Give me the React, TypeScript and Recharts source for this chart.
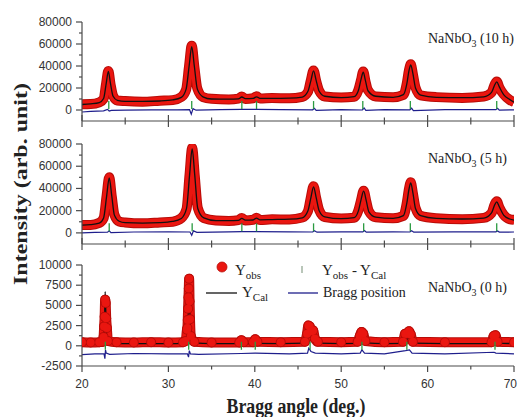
import React from 'react';
import { ComposedChart, Line, Scatter, XAxis, YAxis } from 'recharts';

// ---- NaNbO3 (10 h) ----
const angles10h = [
  20, 21, 22, 22.5, 22.8, 23.05, 23.3, 23.6, 24.1, 25, 27, 29, 30.5, 31.5, 32.05,
  32.4, 32.7, 33.0, 33.35, 34, 35, 37, 38.1, 38.5, 38.9, 39.8, 40.2, 40.6, 42, 44,
  45.5, 46.15, 46.5, 46.8, 47.1, 47.45, 48.1, 50, 51.5, 52.0, 52.3, 52.55, 52.8, 53.1, 54,
  56, 57.2, 57.6, 57.85, 58.05, 58.3, 58.6, 59.2, 61, 64, 66.5, 67.4, 67.75, 68.0, 68.3,
  68.8, 69.5, 70,
];
const yCal10h = [
  5000, 5600, 6800, 10500, 24000, 35000, 24000, 12500, 8800, 7900, 7800, 8200, 9200, 11500, 19000,
  40000, 57500, 40000, 19000, 12000, 10000, 9800, 10200, 11800, 10300, 10500, 12000, 10600, 10600, 10800,
  11800, 17000, 27000, 35500, 27000, 17000, 12500, 11200, 12200, 18000, 28000, 34500, 27000, 17500, 12500,
  11500, 14000, 24000, 36000, 41000, 33000, 20000, 13500, 11500, 11200, 12000, 16000, 22500, 25500, 21000,
  14000, 9500, 7000,
];
const yObs10h = [
  5200, 5400, 7000, 10200, 24500, 35500, 23500, 12800, 8600, 8100, 7600, 8400, 9000, 11800, 18500,
  40500, 58500, 39500, 19500, 11800, 10200, 9600, 10400, 12200, 10100, 10700, 12400, 10400, 10800, 10600,
  12000, 16500, 27500, 36000, 26500, 17500, 12300, 11400, 12000, 18500, 27500, 35000, 26500, 18000, 12300,
  11700, 13800, 24500, 36500, 41500, 32500, 20500, 13300, 11700, 11000, 12200, 15800, 23000, 26000, 20500,
  14300, 9300, 7200,
];
const diffAngles10h = [
  20, 21, 22.5, 22.95, 23.15, 23.4, 25, 28, 31, 32.45, 32.65, 32.85, 33.2, 36, 38.5,
  40.2, 43, 46.7, 46.9, 47.1, 50, 52.45, 52.65, 52.85, 55, 57.95, 58.15, 58.35, 62, 65,
  67.9, 68.1, 68.3, 70,
];
const diff10h = [
  -1800, -1200, -800, 600, -900, -300, -200, 100, 200, 300, -3800, 1200, -200, 300, 600,
  500, 300, 200, 1500, -300, 400, 0, 1800, -400, 300, 200, 1600, -500, 400, 300,
  300, 1500, -200, 200,
];
const bragg10h = [23.1, 32.7, 38.5, 40.2, 46.8, 52.5, 58.0, 68.0];

// ---- NaNbO3 (5 h) ----
const angles5h = [
  20, 21, 22, 22.5, 22.85, 23.15, 23.45, 23.75, 24.3, 25, 27, 29, 30.5, 31.5, 32.1,
  32.45, 32.75, 33.05, 33.4, 34.1, 35.5, 37, 38.1, 38.5, 38.9, 39.8, 40.2, 40.6, 42, 44,
  45.5, 46.15, 46.5, 46.8, 47.1, 47.45, 48.1, 50, 51.5, 52.0, 52.3, 52.6, 52.9, 53.2, 54,
  56, 57.2, 57.6, 57.85, 58.05, 58.3, 58.6, 59.2, 61, 64, 66.5, 67.4, 67.75, 68.0, 68.3,
  68.8, 69.5, 70,
];
const yCal5h = [
  7000, 7400, 8800, 13500, 33000, 49500, 33000, 16000, 10500, 9200, 8800, 9200, 10300, 13000, 22000,
  52000, 75500, 52000, 22000, 13500, 11000, 11000, 11300, 13000, 11400, 11600, 13300, 11800, 12000, 12300,
  13600, 20000, 32000, 41500, 32000, 20000, 14500, 12800, 13800, 20000, 30000, 37500, 29000, 19000, 14200,
  13000, 15500, 27000, 39500, 45000, 36000, 22000, 15500, 13000, 12500, 13300, 18000, 25000, 28000, 23500,
  16000, 12500, 11500,
];
const yObs5h = [
  7200, 7200, 9000, 13200, 33500, 50000, 32500, 16300, 10300, 9400, 8600, 9400, 10100, 13300, 21500,
  52500, 76500, 51500, 22500, 13300, 11200, 10800, 11500, 13400, 11200, 11800, 13600, 11600, 12200, 12100,
  13800, 19500, 32500, 42000, 31500, 20500, 14300, 13000, 13600, 20500, 29500, 38000, 28500, 19500, 14000,
  13200, 15300, 27500, 40000, 45500, 35500, 22500, 15300, 13200, 12300, 13500, 17800, 25500, 28500, 23000,
  16300, 12300, 11700,
];
const diffAngles5h = [
  20, 21.5, 22.95, 23.15, 23.35, 26, 30, 32.5, 32.7, 32.9, 33.3, 37, 38.5, 40.2, 44,
  46.7, 46.9, 47.2, 50, 52.5, 52.7, 52.9, 56, 57.95, 58.15, 58.4, 63, 67.9, 68.1, 68.3,
  70,
];
const diff5h = [
  0, 400, 600, 1800, 200, 800, 900, 800, -2200, 1800, 500, 900, 1200, 1200, 1000,
  800, 2000, 600, 1000, 900, 2200, 700, 1000, 800, 2000, 600, 900, 900, 1800, 700,
  800,
];
const bragg5h = [23.15, 32.75, 38.5, 40.2, 46.8, 52.6, 58.0, 68.0];

// ---- NaNbO3 (0 h) ----
const angles0h = [
  20, 21, 22, 22.4, 22.5, 22.56, 22.62, 22.68, 22.74, 22.8, 22.88, 23.0, 24, 26, 28,
  30, 31.7, 32.0, 32.15, 32.2, 32.24, 32.28, 32.32, 32.36, 32.4, 32.45, 32.5, 32.6, 33.0, 35,
  38.2, 38.45, 38.7, 39.8, 40.05, 40.3, 43, 45.8, 46.05, 46.2, 46.35, 46.55, 46.75, 46.95, 47.3,
  50, 51.9, 52.15, 52.35, 52.55, 52.8, 55, 57.15, 57.4, 57.6, 57.85, 58.05, 58.3, 62, 67.4,
  67.65, 67.85, 68.1, 70,
];
const yObs0h = [
  450, 400, 450, 500, 1100, 2400, 3600, 5700, 5300, 3400, 2200, 600, 450, 400, 450,
  400, 450, 600, 2000, 2200, 3200, 4600, 6000, 7100, 8300, 5500, 3300, 1200, 500, 400,
  400, 700, 450, 450, 800, 500, 450, 500, 1500, 2500, 2400, 1800, 1900, 900, 500,
  450, 500, 1200, 1700, 1500, 600, 450, 500, 1500, 1500, 1800, 1400, 500, 450, 450,
  1200, 1300, 500, 450,
];
const yCal0h = [
  300, 250, 300, 350, 500, 1200, 3500, 6700, 4800, 2200, 900, 400, 280, 260, 260,
  260, 300, 400, 800, 1100, 1800, 3000, 4600, 6200, 7000, 5500, 3000, 900, 350, 260,
  260, 500, 280, 280, 550, 300, 280, 320, 900, 1500, 1600, 1100, 1200, 500, 320,
  280, 300, 800, 1100, 900, 350, 280, 300, 1000, 800, 1000, 800, 320, 280, 280,
  700, 750, 320, 280,
];
const diffAngles0h = [
  20, 21.5, 22.55, 22.65, 22.72, 22.8, 23.2, 26, 30, 32.2, 32.33, 32.42, 32.55, 33.5, 38.45,
  40.05, 44, 46.1, 46.25, 46.5, 47, 50, 52.2, 52.4, 52.7, 55, 57.45, 57.9, 58.2, 62,
  67.7, 67.9, 70,
];
const diff0h = [
  -1100, -1000, -1000, -1600, -500, -900, -1050, -950, -1000, -1000, -1400, -600, -1000, -1050, -950,
  -900, -1000, -900, -300, -700, -900, -1000, -900, -500, -900, -1000, -600, -500, -900, -1000,
  -800, -900, -1000,
];
const bragg0h = [22.7, 32.35, 38.45, 40.05, 46.4, 52.4, 57.6, 67.8];

const xTicks = [20, 25, 30, 35, 40, 45, 50, 55, 60, 65, 70];
const yTicksBig = [0, 10000, 20000, 30000, 40000, 50000, 60000, 70000, 80000];
const yTicksSmall = [-2500, -1250, 0, 1250, 2500, 3750, 5000, 6250, 7500, 8750, 10000];

const RED = '#ea1610';
const RED_EDGE = '#b80c08';
const BLUE = '#1e1e8c';
const GREEN = '#2a9a40';
const AXIS = '#4a4a4a';
const SERIF = '"Liberation Serif", "Times New Roman", serif';
const SANS = '"Liberation Sans", Arial, sans-serif';

const toPoints = (xs: number[], ys: number[]) => xs.map((x, i) => ({ x, y: ys[i] }));
const marks = (xs: number[], level: number) => xs.map((x) => ({ x, y: level }));

const makeXTick = (labels: boolean) => (props: any) => {
  const { x, y, payload } = props;
  const major = payload.value % 10 === 0;
  const len = major ? 6 : 3.5;
  // the last label sits at the page edge; keep it whole
  const last = payload.value === 70;
  return (
    <g>
      <line x1={x} x2={x} y1={labels ? y : y - len} y2={y + len} stroke={AXIS} strokeWidth={1.2} />
      {labels && major && (
        <text
          x={last ? x + 3 : x}
          y={y + 22}
          textAnchor={last ? 'end' : 'middle'}
          fontSize={12}
          fill="#333"
          fontFamily={SANS}
        >
          {payload.value}
        </text>
      )}
    </g>
  );
};

const makeYTick = (step: number) => (props: any) => {
  const { x, y, payload } = props;
  const major = payload.value % step === 0;
  const len = major ? 6 : 3;
  return (
    <g>
      <line x1={x - len} x2={x} y1={y} y2={y} stroke={AXIS} strokeWidth={1.2} />
      {major && (
        <text x={x - 10} y={y + 4} textAnchor="end" fontSize={12} fill="#333" fontFamily={SANS}>
          {payload.value}
        </text>
      )}
    </g>
  );
};

const BraggMark = (props: any) => (
  <line x1={props.cx} x2={props.cx} y1={props.cy - 4} y2={props.cy + 4} stroke={GREEN} strokeWidth={1.3} />
);

interface PanelProps {
  top: number;
  height: number;
  marginTop: number;
  xAxisHeight: number;
  obs: { x: number; y: number }[];
  cal: { x: number; y: number }[];
  diff: { x: number; y: number }[];
  bragg: { x: number; y: number }[];
  yDomain: [number, number];
  yTicks: number[];
  yStep: number;
  xLabels: boolean;
  obsDots: boolean;
}

const Panel: React.FC<PanelProps> = (p) => (
  <div style={{ position: 'absolute', left: 0, top: p.top }}>
    <ComposedChart width={518} height={p.height} margin={{ top: p.marginTop, right: 4, bottom: 0, left: 32 }}>
      <XAxis
        type="number"
        dataKey="x"
        domain={[20, 70]}
        ticks={xTicks}
        interval={0}
        allowDataOverflow
        tickSize={0}
        tickMargin={0}
        tickLine={false}
        axisLine={{ stroke: AXIS, strokeWidth: 1.2 }}
        tick={makeXTick(p.xLabels)}
        height={p.xAxisHeight}
      />
      <YAxis
        type="number"
        domain={p.yDomain}
        ticks={p.yTicks}
        interval={0}
        allowDataOverflow
        tickSize={0}
        tickMargin={0}
        tickLine={false}
        axisLine={{ stroke: AXIS, strokeWidth: 1.2 }}
        tick={makeYTick(p.yStep)}
        width={50}
      />
      {/* darker rim under the observed band */}
      <Line
        data={p.obs}
        dataKey="y"
        type="monotone"
        stroke={RED_EDGE}
        strokeWidth={10}
        strokeLinejoin="round"
        dot={p.obsDots ? { r: 5, fill: RED_EDGE, stroke: 'none' } : false}
        activeDot={false}
        isAnimationActive={false}
        legendType="none"
      />
      <Line
        data={p.obs}
        dataKey="y"
        type="monotone"
        stroke={RED}
        strokeWidth={8}
        strokeLinejoin="round"
        dot={p.obsDots ? { r: 4, fill: RED, stroke: 'none' } : false}
        activeDot={false}
        isAnimationActive={false}
      />
      <Line data={p.cal} dataKey="y" type="monotone" stroke="#111" strokeWidth={1.3} dot={false} activeDot={false} isAnimationActive={false} />
      <Line data={p.diff} dataKey="y" type="linear" stroke={BLUE} strokeWidth={1.2} dot={false} activeDot={false} isAnimationActive={false} />
      <Scatter data={p.bragg} dataKey="y" shape={BraggMark} isAnimationActive={false} />
    </ComposedChart>
  </div>
);

const SampleLabel = ({ y, hours }: { y: number; hours: string }) => (
  <text x={428} y={y} fontFamily={SERIF} fontSize={14} fill="#222">
    NaNbO<tspan fontSize={10} dy={4}>3</tspan>
    <tspan dy={-4}>{` (${hours} h)`}</tspan>
  </text>
);

export default function App() {
  return (
    <div style={{ position: 'absolute', left: 0, top: 0, width: 518, height: 417, background: '#fff' }}>
      <Panel
        top={0}
        height={140}
        marginTop={22}
        xAxisHeight={19}
        obs={toPoints(angles10h, yObs10h)}
        cal={toPoints(angles10h, yCal10h)}
        diff={toPoints(diffAngles10h, diff10h)}
        bragg={marks(bragg10h, 4500)}
        yDomain={[-10000, 80000]}
        yTicks={yTicksBig}
        yStep={20000}
        xLabels={false}
        obsDots={false}
      />
      <Panel
        top={122}
        height={141}
        marginTop={22}
        xAxisHeight={19}
        obs={toPoints(angles5h, yObs5h)}
        cal={toPoints(angles5h, yCal5h)}
        diff={toPoints(diffAngles5h, diff5h)}
        bragg={marks(bragg5h, 5000)}
        yDomain={[-10000, 80000]}
        yTicks={yTicksBig}
        yStep={20000}
        xLabels={false}
        obsDots={false}
      />
      <Panel
        top={245}
        height={151}
        marginTop={20}
        xAxisHeight={30}
        obs={toPoints(angles0h, yObs0h)}
        cal={toPoints(angles0h, yCal0h)}
        diff={toPoints(diffAngles0h, diff0h)}
        bragg={marks(bragg0h, 0)}
        yDomain={[-2500, 10000]}
        yTicks={yTicksSmall}
        yStep={2500}
        xLabels={true}
        obsDots={true}
      />
      <svg width={518} height={417} style={{ position: 'absolute', left: 0, top: 0, pointerEvents: 'none' }}>
        <text
          transform="translate(27,184) rotate(-90)"
          textAnchor="middle"
          fontFamily={SERIF}
          fontWeight="bold"
          fontSize={18}
          textLength={202}
          lengthAdjust="spacingAndGlyphs"
          fill="#222"
        >
          Intensity (arb. unit)
        </text>
        <text
          x={296}
          y={413}
          textAnchor="middle"
          fontFamily={SERIF}
          fontWeight="bold"
          fontSize={20}
          textLength={139}
          lengthAdjust="spacingAndGlyphs"
          fill="#222"
        >
          Bragg angle (deg.)
        </text>
        <SampleLabel y={43} hours="10" />
        <SampleLabel y={163} hours="5" />
        <SampleLabel y={292} hours="0" />

        {/* legend */}
        <circle cx={222} cy={267} r={5} fill={RED} stroke={RED_EDGE} strokeWidth={0.8} />
        <text x={235} y={275} fontFamily={SERIF} fontSize={15} fill="#222">
          Y<tspan fontSize={11} dy={4}>obs</tspan>
        </text>
        <line x1={302} x2={302} y1={266} y2={273} stroke="#8aa08a" strokeWidth={1.2} />
        <text x={322} y={275} fontFamily={SERIF} fontSize={15} fill="#222">
          Y<tspan fontSize={11} dy={4}>obs</tspan>
          <tspan dy={-4}> - Y</tspan>
          <tspan fontSize={11} dy={4}>Cal</tspan>
        </text>
        <line x1={206} x2={237} y1={293} y2={293} stroke="#111" strokeWidth={1.3} />
        <text x={242} y={297} fontFamily={SERIF} fontSize={15} fill="#222">
          Y<tspan fontSize={11} dy={4}>Cal</tspan>
        </text>
        <line x1={288} x2={318} y1={293} y2={293} stroke={BLUE} strokeWidth={1.3} />
        <text x={323} y={297} fontFamily={SERIF} fontSize={14} fill="#222">
          Bragg position
        </text>
      </svg>
    </div>
  );
}
